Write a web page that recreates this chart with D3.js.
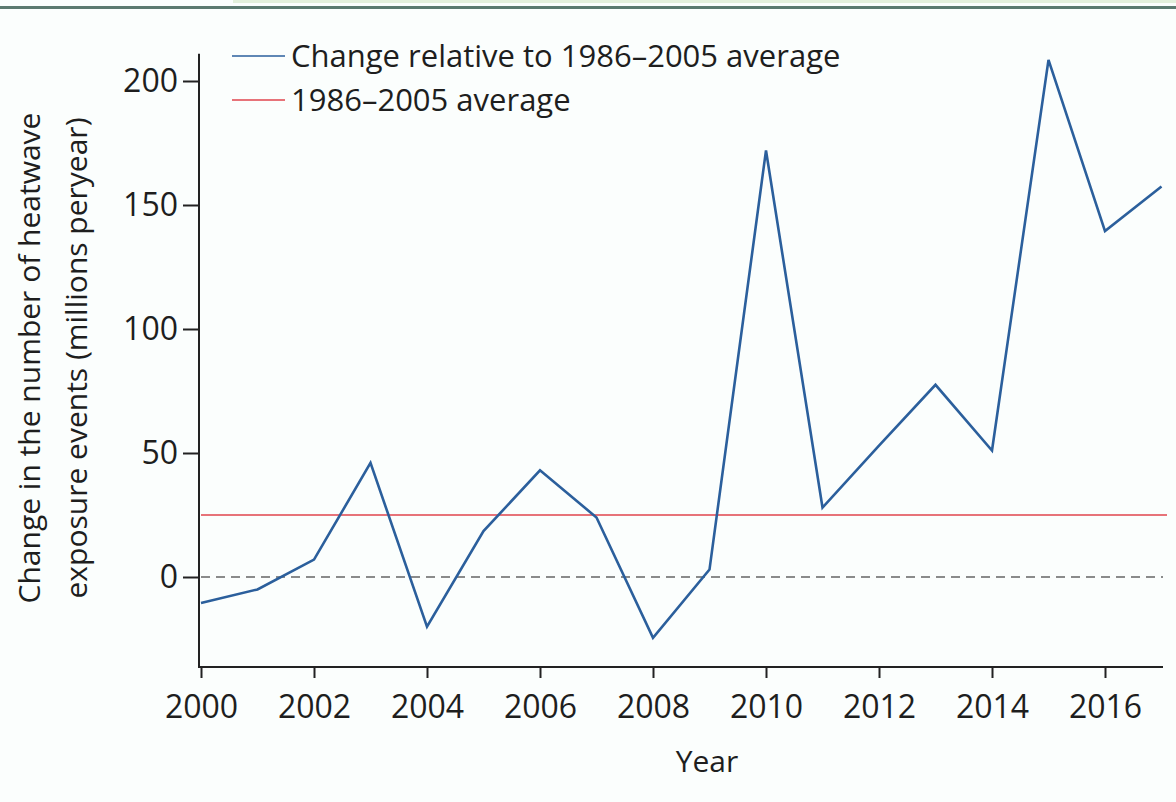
<!DOCTYPE html>
<html><head><meta charset="utf-8">
<script src="https://cdn.jsdelivr.net/npm/d3@7"></script>
<style>
html,body{margin:0;padding:0;background:#fbfefd;}
svg{display:block;}
text{font-family:"Open Sans",sans-serif;fill:#1e1e1e;}
</style></head>
<body>
<script>
const years = [2000,2001,2002,2003,2004,2005,2006,2007,2008,2009,2010,2011,2012,2013,2014,2015,2016,2017];
const changeValues = [-10.5,-5,7,46,-20,18.5,43,24,-24.5,3,172,28,53,77.5,51,208.5,139.5,157.5];
const averageValue = 25;
const xTicks = [2000,2002,2004,2006,2008,2010,2012,2014,2016];
const yTicks = [0,50,100,150,200];
const legendLabels = ["Change relative to 1986\u20132005 average","1986\u20132005 average"];
const yTitle = ["Change in the number of heatwave","exposure events (millions peryear)"];
const xTitle = "Year";

const W=1176,H=802;
const svg=d3.select("body").append("svg").attr("width",W).attr("height",H);

// top decoration
svg.append("rect").attr("x",0).attr("y",0).attr("width",W).attr("height",H).attr("fill","#fbfefd");
svg.append("rect").attr("x",233).attr("y",0).attr("width",W-233).attr("height",3).attr("fill","#e3f0dc");
svg.append("rect").attr("x",0).attr("y",6).attr("width",W).attr("height",3).attr("fill","#5b7a70");

const x=d3.scaleLinear().domain([2000,2017]).range([201,1161.5]);
const y=d3.scaleLinear().domain([0,200]).range([577,81]);
const yBottom=y(-36.3), yTop=y(211);

// axes
const xAxis=svg.append("g").attr("transform",`translate(0,${yBottom})`)
  .call(d3.axisBottom(x).tickValues(xTicks).tickFormat(d3.format("d")).tickSize(11).tickPadding(17));
xAxis.select(".domain").attr("d",`M198,0H1163`);
const yAxis=svg.append("g").attr("transform",`translate(199,0)`)
  .call(d3.axisLeft(y).tickValues(yTicks).tickSize(16).tickPadding(5));
yAxis.select(".domain").attr("d",`M0,${yTop}V${yBottom}`);
svg.selectAll(".domain").attr("stroke","#222").attr("stroke-width",2);
svg.selectAll(".tick line").attr("stroke","#222").attr("stroke-width",2);
svg.selectAll(".tick text").attr("font-size",32).attr("font-family","'Open Sans',sans-serif").attr("fill","#1e1e1e");

// zero dashed line
svg.append("line").attr("x1",201).attr("x2",1163).attr("y1",y(0)).attr("y2",y(0))
  .attr("stroke","#666").attr("stroke-width",1.6).attr("stroke-dasharray","9,6");
// average line
svg.append("line").attr("x1",201).attr("x2",1167).attr("y1",y(averageValue)).attr("y2",y(averageValue))
  .attr("stroke","#e0454c").attr("stroke-width",1.6);
// series line
svg.append("path").datum(years.map((yr,i)=>[yr,changeValues[i]]))
  .attr("fill","none").attr("stroke","#2b5f9c").attr("stroke-width",2.6).attr("stroke-linejoin","miter")
  .attr("d",d3.line().x(d=>x(d[0])).y(d=>y(d[1])));

// legend
const lg=[{c:"#2b5f9c",y:56},{c:"#e0454c",y:100}];
lg.forEach((l,i)=>{
  svg.append("line").attr("x1",232).attr("x2",285).attr("y1",l.y).attr("y2",l.y).attr("stroke",l.c).attr("stroke-width",1.6);
  svg.append("text").attr("x",291).attr("y",l.y+11).attr("font-size",31).text(legendLabels[i]);
});

// titles
svg.append("text").attr("transform","translate(40,358) rotate(-90)").attr("text-anchor","middle").attr("font-size",30).text(yTitle[0]);
svg.append("text").attr("transform","translate(87,358) rotate(-90)").attr("text-anchor","middle").attr("font-size",30).text(yTitle[1]);
svg.append("text").attr("x",707).attr("y",772).attr("text-anchor","middle").attr("font-size",30).text(xTitle);
</script>
</body></html>
